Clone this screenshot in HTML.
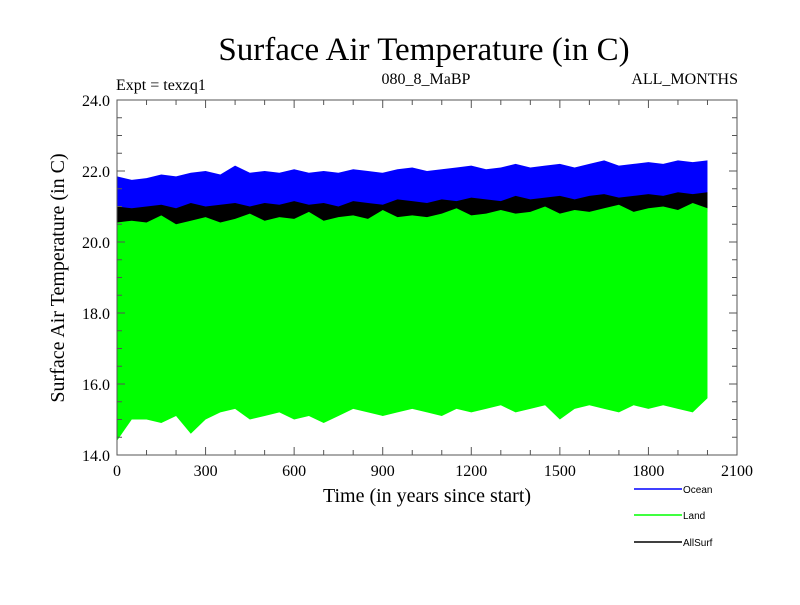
<!DOCTYPE html>
<html><head><meta charset="utf-8"><style>
body{margin:0;background:#fff}
svg text{font-family:"Liberation Serif",serif}
</style></head><body>
<svg id="c" width="800" height="600" viewBox="0 0 800 600">
<text x="424" y="60" text-anchor="middle" font-size="33">Surface Air Temperature (in C)</text>
<text x="116" y="90" font-size="16">Expt = texzq1</text>
<text x="426" y="84" text-anchor="middle" font-size="16">080_8_MaBP</text>
<text x="738" y="84" text-anchor="end" font-size="16">ALL_MONTHS</text>
<g id="marks"></g>
<g id="axes"></g>
<text x="427" y="502" text-anchor="middle" font-size="20">Time (in years since start)</text>
<text transform="translate(64,278) rotate(-90)" text-anchor="middle" font-size="20">Surface Air Temperature (in C)</text>
<g font-size="10">
<line x1="634" y1="489" x2="682" y2="489" stroke="#0000ff" stroke-width="1.5"/>
<text x="683" y="493" style="font-family:'Liberation Sans',sans-serif">Ocean</text>
<line x1="634" y1="515" x2="682" y2="515" stroke="#00ff00" stroke-width="1.5"/>
<text x="683" y="519" style="font-family:'Liberation Sans',sans-serif">Land</text>
<line x1="634" y1="542" x2="682" y2="542" stroke="#000" stroke-width="1.5"/>
<text x="683" y="546" style="font-family:'Liberation Sans',sans-serif">AllSurf</text>
</g>
</svg>
<script>
const years=[0,50,100,150,200,250,300,350,400,450,500,550,600,650,700,750,800,850,900,950,1000,1050,1100,1150,1200,1250,1300,1350,1400,1450,1500,1550,1600,1650,1700,1750,1800,1850,1900,1950,2000];
const oceanMax=[21.85,21.75,21.8,21.9,21.85,21.95,22.0,21.9,22.15,21.95,22.0,21.95,22.05,21.95,22.0,21.95,22.05,22.0,21.95,22.05,22.1,22.0,22.05,22.1,22.15,22.05,22.1,22.2,22.1,22.15,22.2,22.1,22.2,22.3,22.15,22.2,22.25,22.2,22.3,22.25,22.3];
const allMax=[21.0,20.95,21.0,21.05,20.95,21.1,21.0,21.05,21.1,21.0,21.1,21.05,21.15,21.05,21.1,21.0,21.15,21.1,21.05,21.2,21.15,21.1,21.2,21.15,21.25,21.2,21.15,21.3,21.2,21.25,21.3,21.2,21.3,21.35,21.25,21.3,21.35,21.3,21.4,21.35,21.4];
const allMin=[20.45,20.4,20.45,20.5,20.4,20.55,20.45,20.5,20.55,20.5,20.55,20.5,20.6,20.5,20.55,20.55,20.6,20.55,20.55,20.65,20.6,20.55,20.65,20.6,20.7,20.65,20.65,20.75,20.65,20.7,20.75,20.7,20.75,20.8,20.75,20.75,20.8,20.75,20.85,20.8,20.85];
const landMax=[20.55,20.6,20.55,20.75,20.5,20.6,20.7,20.55,20.65,20.8,20.6,20.7,20.65,20.85,20.6,20.7,20.75,20.65,20.9,20.7,20.75,20.7,20.8,20.95,20.75,20.8,20.9,20.8,20.85,21.0,20.8,20.9,20.85,20.95,21.05,20.85,20.95,21.0,20.9,21.1,20.95];
const landMin=[14.4,15.0,15.0,14.9,15.1,14.6,15.0,15.2,15.3,15.0,15.1,15.2,15.0,15.1,14.9,15.1,15.3,15.2,15.1,15.2,15.3,15.2,15.1,15.3,15.2,15.3,15.4,15.2,15.3,15.4,15.0,15.3,15.4,15.3,15.2,15.4,15.3,15.4,15.3,15.2,15.6];
const xTicks=[0,300,600,900,1200,1500,1800,2100];
const yTicks=[14,16,18,20,22,24];
const X0=117,X1=737,Y0=455,Y1=100;
const xs=v=>X0+(v/2100)*(X1-X0);
const ys=v=>Y0-((v-14)/10)*(Y0-Y1);
const NS='http://www.w3.org/2000/svg';
const marks=document.getElementById('marks'),axes=document.getElementById('axes');
function band(top,bot,color,name){
  let pts=[];
  for(let i=0;i<years.length;i++)pts.push(xs(years[i])+','+ys(top[i]));
  for(let i=years.length-1;i>=0;i--)pts.push(xs(years[i])+','+ys(bot[i]));
  const p=document.createElementNS(NS,'polygon');
  p.setAttribute('points',pts.join(' '));p.setAttribute('fill',color);
  
  
  marks.appendChild(p);
}
band(oceanMax,allMin,'#0000ff','ocean-series');
band(allMax,allMin,'#000000','allsurf-series');
band(landMax,landMin,'#00ff00','land-series');
function ln(x1,y1,x2,y2){const l=document.createElementNS(NS,'line');l.setAttribute('x1',x1);l.setAttribute('y1',y1);l.setAttribute('x2',x2);l.setAttribute('y2',y2);l.setAttribute('stroke','#555');l.setAttribute('stroke-width','1');axes.appendChild(l);return l;}
const fr=document.createElementNS(NS,'rect');
fr.setAttribute('x',X0);fr.setAttribute('y',Y1);fr.setAttribute('width',X1-X0);fr.setAttribute('height',Y0-Y1);fr.setAttribute('fill','none');fr.setAttribute('stroke','#555');


axes.appendChild(fr);
for(let v=0;v<=2100;v+=100){const m=v%300===0;const L=m?8:5;ln(xs(v),Y0,xs(v),Y0-L);ln(xs(v),Y1,xs(v),Y1+L);}
for(let v=14;v<=24.001;v+=0.5){const m=Math.abs(v-Math.round(v/2)*2)<0.01;const L=m?8:5;ln(X0,ys(v),X0+L,ys(v));ln(X1,ys(v),X1-L,ys(v));}
xTicks.forEach(v=>{const t=document.createElementNS(NS,'text');t.setAttribute('x',xs(v));t.setAttribute('y',476);t.setAttribute('text-anchor','middle');t.setAttribute('font-size','16');t.textContent=v;


axes.appendChild(t);});
yTicks.forEach(v=>{const t=document.createElementNS(NS,'text');t.setAttribute('x',110);t.setAttribute('y',ys(v)+6);t.setAttribute('text-anchor','end');t.setAttribute('font-size','16');t.textContent=v.toFixed(1);


axes.appendChild(t);});
</script>
</body></html>
